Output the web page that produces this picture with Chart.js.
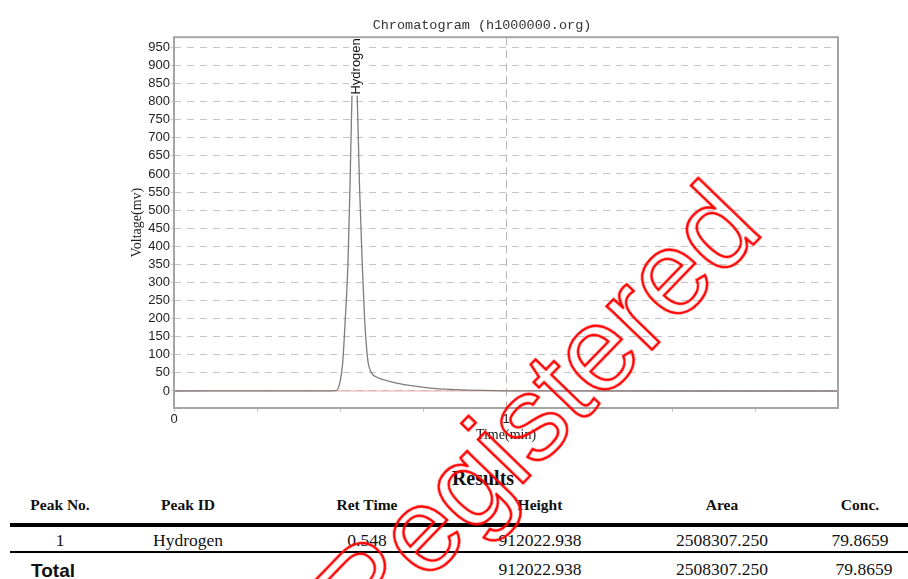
<!DOCTYPE html>
<html>
<head>
<meta charset="utf-8">
<title>Chromatogram</title>
<script src="https://cdn.jsdelivr.net/npm/chart.js@4.4.1/dist/chart.umd.min.js"></script>
<style>
  html, body { margin: 0; padding: 0; background: #fff; }
  #page { position: relative; width: 908px; height: 579px; overflow: hidden; }
  #chartBox { position: absolute; left: 0; top: 0; width: 908px; height: 450px; }
  .cell { position: absolute; transform: translate(-50%, -50%); white-space: nowrap;
          font-family: "Liberation Serif", serif; font-size: 17.5px; color: #111; }
  .head { font-weight: bold; font-size: 15.5px; }
  .rule { position: absolute; left: 10px; right: 0; background: #000; }
  #stamp { position: absolute; left: 536px; top: 410px; transform: translate(-50%, -50%) rotate(-46deg);
           font-family: "Liberation Sans", Arial, sans-serif; font-size: 119px; white-space: nowrap;
           color: transparent; -webkit-text-stroke: 2.5px #ff0000; pointer-events: none; }
</style>
</head>
<body>
<div id="page">
  <div id="chartBox"><canvas id="myChart"></canvas></div>
  <div id="results"></div>
  <div id="stamp">Registered</div>
</div>
<script>
// detector trace, time in min / signal in mV
var times    = [0, 0.30, 0.47, 0.485, 0.491, 0.500, 0.508, 0.516, 0.524, 0.530, 0.536, 0.541, 0.546, 0.550, 0.552, 0.559, 0.567, 0.574, 0.580, 0.585, 0.595, 0.611, 0.640, 0.671, 0.720, 0.771, 0.850, 0.930, 1.000, 1.100, 2.000];
var voltages = [0, 0.3, 0.5, 1.0, 2, 25, 77, 200, 353, 560, 812, 895, 912, 860, 812, 560, 353, 200, 120, 77, 50, 38, 29, 22, 14, 8, 4, 1.5, 0.5, 0.2, 0];

var yTicks = [0, 50, 100, 150, 200, 250, 300, 350, 400, 450, 500, 550, 600, 650, 700, 750, 800, 850, 900, 950];
var xTicks = [0, 0.25, 0.5, 0.75, 1, 1.25, 1.5, 1.75];

var peakNames = ['Hydrogen'];
var peakTimes = [0.548];

var columns   = ['Peak No.', 'Peak ID', 'Ret Time', 'Height', 'Area', 'Conc.'];
var peakRow   = ['1', 'Hydrogen', '0.548', '912022.938', '2508307.250', '79.8659'];
var totalRow  = ['', '', '', '912022.938', '2508307.250', '79.8659'];
var colX      = [60, 188, 367, 540, 722, 860];

var trace = times.map(function (t, i) { return { x: t, y: voltages[i] }; });

// box around the plot + peak name at its retention time
var framePlugin = {
    id: 'frame',
    afterDatasetsDraw: function (chart) {
        var ctx = chart.ctx, a = chart.chartArea, xs = chart.scales.x;
        ctx.save();
        ctx.font = '13px "Liberation Sans", Arial, sans-serif';
        peakNames.forEach(function (name, i) {
            var px = xs.getPixelForValue(peakTimes[i]);
            var w = ctx.measureText(name).width;
            var y0 = a.top + w + 1;
            ctx.save();
            ctx.translate(px, y0);
            ctx.rotate(-Math.PI / 2);
            ctx.fillStyle = '#fff';
            ctx.fillRect(-1, -7, w + 2, 14);
            ctx.fillStyle = '#111';
            ctx.textBaseline = 'middle';
            ctx.fillText(name, 0, 0);
            ctx.restore();
        });
        ctx.strokeStyle = '#a5a5a5';
        ctx.lineWidth = 2;
        ctx.strokeRect(a.left, a.top, a.right - a.left, a.bottom - a.top);
        ctx.restore();
    }
};

var ctx = document.getElementById('myChart').getContext('2d');
var chart = new Chart(ctx, {
    type: 'line',
    data: {
        datasets: [{
            data: trace,
            borderColor: '#7d7d7d',
            borderWidth: 1.3,
            pointRadius: 0,
            cubicInterpolationMode: 'monotone',
            fill: false
        }, {
            // baseline
            data: [{ x: 0, y: 0 }, { x: 2, y: 0 }],
            borderColor: '#e8a8a8',
            borderWidth: 1,
            pointRadius: 0
        }]
    },
    options: {
        responsive: true,
        maintainAspectRatio: false,
        animation: false,
        layout: { padding: { left: 126, right: 70, top: 0, bottom: 0 } },
        plugins: {
            legend: { display: false },
            tooltip: { enabled: false },
            title: {
                display: true,
                text: 'Chromatogram (h1000000.org)',
                color: '#333',
                font: { family: '"Liberation Mono", monospace', size: 13.5, weight: 'normal' },
                padding: { top: 17, bottom: 4 }
            }
        },
        scales: {
            x: {
                type: 'linear',
                min: 0,
                max: 2,
                afterBuildTicks: function (scale) {
                    scale.ticks = xTicks.map(function (v) { return { value: v }; });
                },
                afterFit: function (scale) { scale.height = 42; },
                border: { display: false, dash: [8, 5] },
                grid: {
                    color: function (c) { return c.tick && c.tick.value === 1 ? '#b5b5b5' : 'rgba(0,0,0,0)'; },
                    tickColor: '#c8c8c8',
                    tickLength: 4
                },
                ticks: {
                    autoSkip: false,
                    maxRotation: 0,
                    padding: 0,
                    color: '#222',
                    font: { family: '"Liberation Sans", Arial, sans-serif', size: 13 },
                    callback: function (v) { return Number.isInteger(v) ? String(v) : ''; }
                },
                title: {
                    display: true,
                    text: 'Time(min)',
                    color: '#222',
                    font: { family: '"Liberation Serif", serif', size: 14 },
                    padding: { top: 0, bottom: 6 }
                }
            },
            y: {
                min: -47,
                max: 978,
                afterBuildTicks: function (scale) {
                    scale.ticks = yTicks.map(function (v) { return { value: v }; });
                },
                afterFit: function (scale) { scale.width = 48; },
                border: { display: false, dash: [7, 6] },
                grid: {
                    color: '#c4c4c4',
                    tickColor: '#c8c8c8',
                    tickLength: 3
                },
                ticks: {
                    padding: 1,
                    color: '#222',
                    font: { family: '"Liberation Sans", Arial, sans-serif', size: 13 }
                },
                title: {
                    display: true,
                    text: 'Voltage(mv)',
                    color: '#222',
                    font: { family: '"Liberation Serif", serif', size: 14 },
                    padding: { top: 3, bottom: 0 }
                }
            }
        }
    },
    plugins: [framePlugin]
});

// results table under the plot
var res = document.getElementById('results');
function addCell(text, x, y, cls) {
    var d = document.createElement('div');
    d.className = 'cell' + (cls ? ' ' + cls : '');
    d.style.left = x + 'px';
    d.style.top = y + 'px';
    d.textContent = text;
    res.appendChild(d);
    return d;
}
function addRule(y, h) {
    var d = document.createElement('div');
    d.className = 'rule';
    d.style.top = y + 'px';
    d.style.height = h + 'px';
    res.appendChild(d);
}
var r = addCell('Results', 483, 478, 'head');
r.style.fontSize = '20px';
columns.forEach(function (c, i) { addCell(c, colX[i], 505, 'head'); });
addRule(523, 4);
peakRow.forEach(function (c, i) { addCell(c, colX[i], 540); });
addRule(551, 2);
var t = addCell('Total', 31, 571);
t.style.transform = 'translate(0, -50%)';
t.style.fontFamily = '"Liberation Sans", Arial, sans-serif';
t.style.fontWeight = 'bold';
t.style.fontSize = '19px';
totalRow.forEach(function (c, i) { if (c) addCell(c, colX[i] + (i === 5 ? 4 : 0), 569); });
</script>
</body>
</html>
